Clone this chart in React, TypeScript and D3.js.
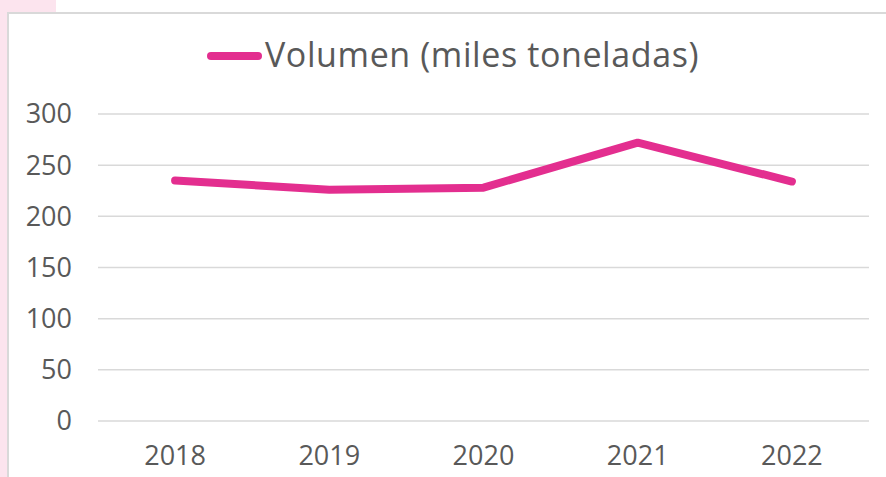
import React from "react";
import * as d3 from "d3";

const years = ["2018", "2019", "2020", "2021", "2022"];
const volumen = [235, 226, 228, 272, 234];
const yTicks = [0, 50, 100, 150, 200, 250, 300];
const seriesName = "Volumen (miles toneladas)";

const W = 886;
const H = 477;
const FONT = "'Open Sans', 'Noto Sans', sans-serif";
const TEXT = "#595959";
const GRID = "#d9d9d9";
const LINE = "#E32E8F";

export default function App() {
  const x = d3.scaleBand<string>().domain(years).range([98, 869]);
  const y = d3.scaleLinear().domain([0, 300]).range([421, 114]);
  const line = d3
    .line<number>()
    .x((_, i) => (x(years[i]) as number) + x.bandwidth() / 2)
    .y((d) => y(d));

  return (
    <svg
      width={W}
      height={H}
      style={{ position: "absolute", left: 0, top: 0, display: "block" }}
      fontFamily={FONT}
    >
      <rect x={0} y={0} width={W} height={H} fill="#ffffff" />
      <rect x={0} y={0} width={56} height={13} fill="#fce4ee" />
      <rect x={0} y={0} width={8} height={H} fill="#fce4ee" />
      <line x1={8} x2={W} y1={13} y2={13} stroke={GRID} strokeWidth={2} />
      <line x1={8} x2={8} y1={12} y2={H} stroke={GRID} strokeWidth={2} />

      {yTicks.map((t) => (
        <g key={t}>
          <line x1={98} x2={869} y1={y(t)} y2={y(t)} stroke={GRID} strokeWidth={1.5} />
          <text
            x={72}
            y={y(t)}
            dy="0.35em"
            textAnchor="end"
            fontSize={27}
            fill={TEXT}
          >
            {t}
          </text>
        </g>
      ))}

      {years.map((yr) => (
        <text
          key={yr}
          x={(x(yr) as number) + x.bandwidth() / 2}
          y={465}
          textAnchor="middle"
          fontSize={27}
          fill={TEXT}
        >
          {yr}
        </text>
      ))}

      <path
        d={line(volumen) || ""}
        fill="none"
        stroke={LINE}
        strokeWidth={8}
        strokeLinecap="round"
        strokeLinejoin="round"
      />

      <line x1={211} x2={258} y1={56} y2={56} stroke={LINE} strokeWidth={8} strokeLinecap="round" />
      <text x={265} y={67} fontSize={34} letterSpacing={0.6} fill={TEXT}>
        {seriesName}
      </text>
    </svg>
  );
}
